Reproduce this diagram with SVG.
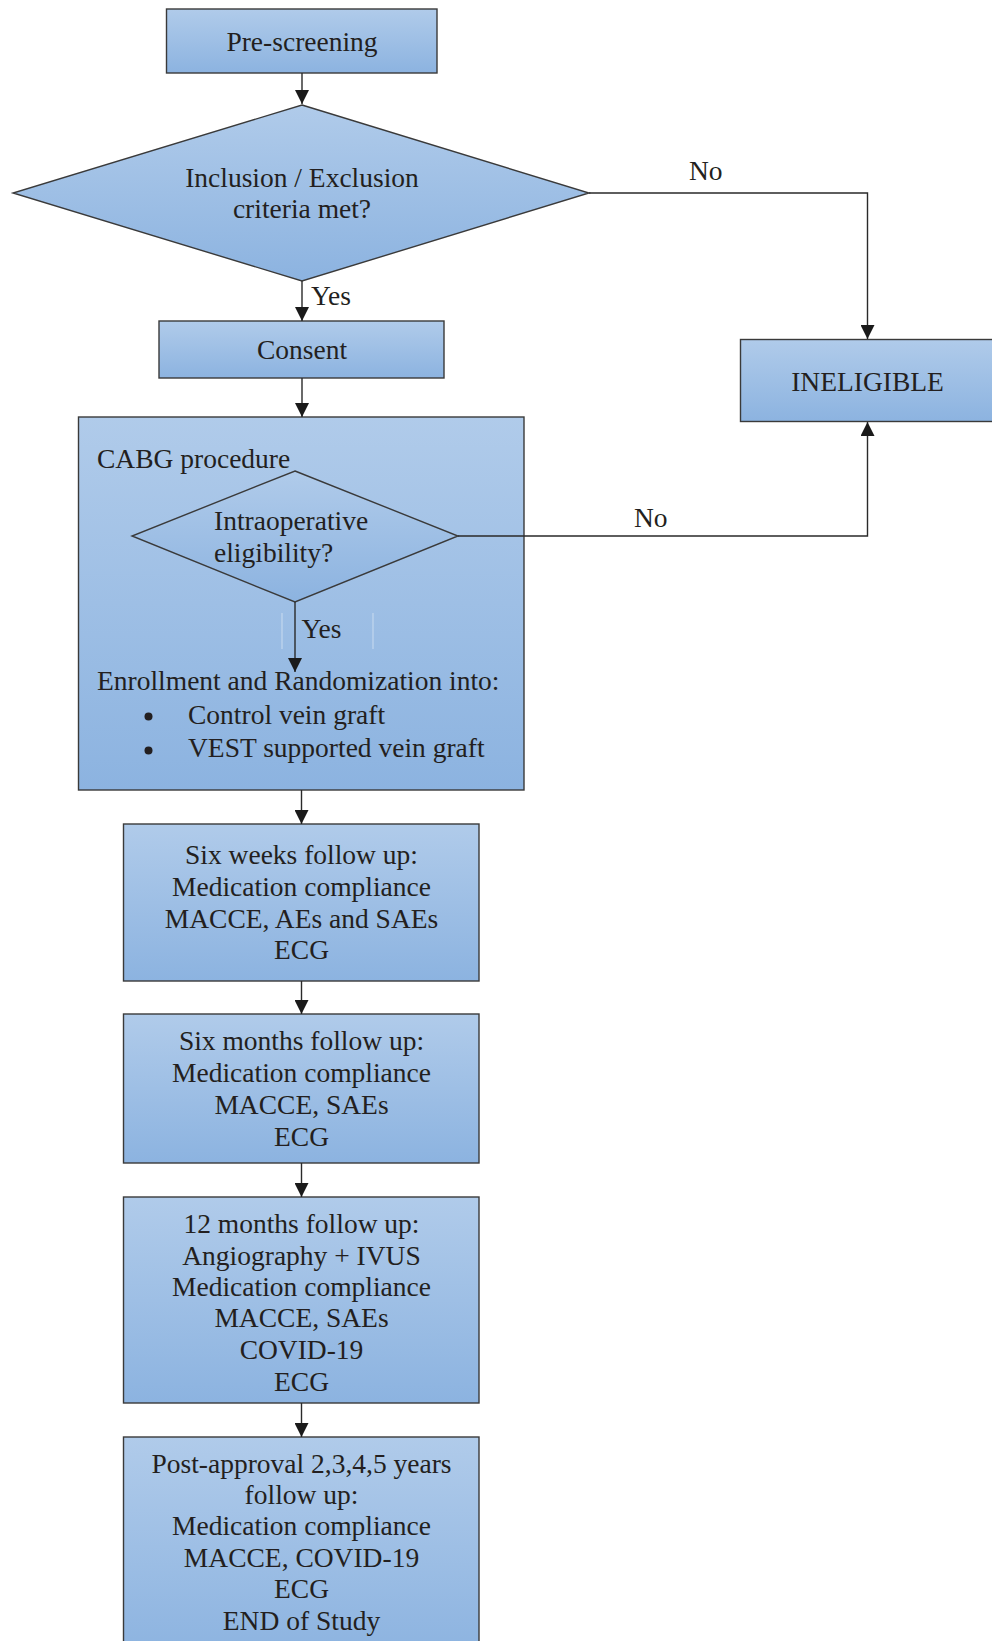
<svg xmlns="http://www.w3.org/2000/svg" width="992" height="1641" viewBox="0 0 992 1641">
<defs>
<linearGradient id="g" x1="0" y1="0" x2="0" y2="1">
<stop offset="0" stop-color="#b0cbea"/>
<stop offset="1" stop-color="#8cb3e0"/>
</linearGradient>
<marker id="ah" markerUnits="userSpaceOnUse" markerWidth="14" markerHeight="14" refX="14" refY="7" orient="auto">
<path d="M0,0 L14,7 L0,14 z" fill="#1a1a1a"/>
</marker>
<style>
.box{fill:url(#g);stroke:#3a3a3a;stroke-width:1.4}
.t{font-family:"Liberation Serif","Times New Roman",serif;font-size:27.5px;fill:#231f20}
.c{text-anchor:middle}
.ln{fill:none;stroke:#2a2a2a;stroke-width:1.4}
</style>
</defs>
<rect width="992" height="1641" fill="#ffffff"/>

<g id="prescreening">
<rect class="box" x="166.5" y="9" width="270.5" height="64"/>
<text class="t c" x="302" y="51">Pre-screening</text>
</g>

<g id="criteria">
<polygon class="box" points="302,105 589,193 302,281 13,193"/>
<text class="t c" x="302" y="187">Inclusion / Exclusion</text>
<text class="t c" x="302" y="218">criteria met?</text>
</g>

<g id="consent">
<rect class="box" x="159" y="321" width="285" height="57"/>
<text class="t c" x="302" y="359">Consent</text>
</g>

<g id="ineligible">
<rect class="box" x="740.5" y="339.5" width="260" height="82"/>
<text class="t c" x="867.5" y="391">INELIGIBLE</text>
</g>

<g id="cabg">
<rect class="box" x="78.5" y="417" width="445.5" height="373"/>
<text class="t" x="97" y="468">CABG procedure</text>
<polygon class="box" points="295,471 458,536 295,602 132,536"/>
<text class="t" x="214" y="530">Intraoperative</text>
<text class="t" x="214" y="562">eligibility?</text>
<path d="M282,613 V649 M373,613 V649" fill="none" stroke="#d6e3f3" stroke-width="0.8"/>
<text class="t" x="301.5" y="638">Yes</text>
<text class="t" x="97" y="690">Enrollment and Randomization into:</text>
<circle cx="148.5" cy="716.5" r="4" fill="#231f20"/>
<circle cx="148.5" cy="750.5" r="4" fill="#231f20"/>
<text class="t" x="188" y="724">Control vein graft</text>
<text class="t" x="188" y="757">VEST supported vein graft</text>
</g>

<g id="sixweeks">
<rect class="box" x="123.5" y="824" width="355.5" height="157"/>
<text class="t c" x="301.5" y="864">Six weeks follow up:</text>
<text class="t c" x="301.5" y="896">Medication compliance</text>
<text class="t c" x="301.5" y="927.5">MACCE, AEs and SAEs</text>
<text class="t c" x="301.5" y="959">ECG</text>
</g>

<g id="sixmonths">
<rect class="box" x="123.5" y="1014" width="355.5" height="149"/>
<text class="t c" x="301.5" y="1050">Six months follow up:</text>
<text class="t c" x="301.5" y="1082">Medication compliance</text>
<text class="t c" x="301.5" y="1114">MACCE, SAEs</text>
<text class="t c" x="301.5" y="1146">ECG</text>
</g>

<g id="twelvemonths">
<rect class="box" x="123.5" y="1197" width="355.5" height="206"/>
<text class="t c" x="301.5" y="1233">12 months follow up:</text>
<text class="t c" x="301.5" y="1265">Angiography + IVUS</text>
<text class="t c" x="301.5" y="1296">Medication compliance</text>
<text class="t c" x="301.5" y="1327">MACCE, SAEs</text>
<text class="t c" x="301.5" y="1359">COVID-19</text>
<text class="t c" x="301.5" y="1391">ECG</text>
</g>

<g id="postapproval">
<rect class="box" x="123.5" y="1437" width="355.5" height="220"/>
<text class="t c" x="301.5" y="1473">Post-approval 2,3,4,5 years</text>
<text class="t c" x="301.5" y="1503.5">follow up:</text>
<text class="t c" x="301.5" y="1535">Medication compliance</text>
<text class="t c" x="301.5" y="1566.5">MACCE, COVID-19</text>
<text class="t c" x="301.5" y="1597.5">ECG</text>
<text class="t c" x="301.5" y="1630">END of Study</text>
</g>

<g id="connectors">
<path class="ln" d="M302,73 V104" marker-end="url(#ah)"/>
<path class="ln" d="M302,281 V321" marker-end="url(#ah)"/>
<path class="ln" d="M302,378 V417" marker-end="url(#ah)"/>
<path class="ln" d="M589,193 H867.5 V339" marker-end="url(#ah)"/>
<path class="ln" d="M458,536 H867.5 V422" marker-end="url(#ah)"/>
<path class="ln" d="M295,602 V672" marker-end="url(#ah)"/>
<path class="ln" d="M301.5,790 V824" marker-end="url(#ah)"/>
<path class="ln" d="M301.5,981 V1014" marker-end="url(#ah)"/>
<path class="ln" d="M301.5,1163 V1197" marker-end="url(#ah)"/>
<path class="ln" d="M301.5,1403 V1437" marker-end="url(#ah)"/>
<text class="t" x="311" y="305">Yes</text>
<text class="t" x="689" y="180">No</text>
<text class="t" x="634" y="527">No</text>
</g>
</svg>
